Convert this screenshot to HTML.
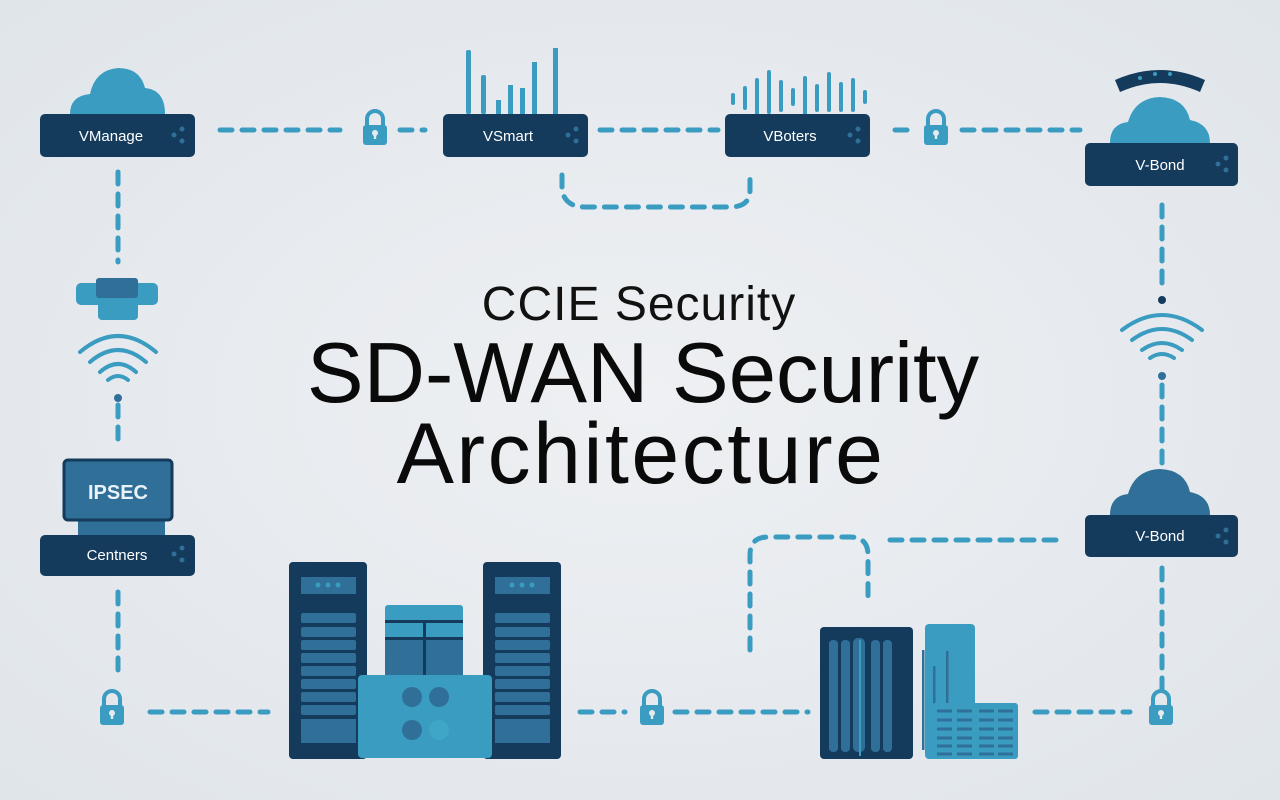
<!DOCTYPE html>
<html><head><meta charset="utf-8"><style>
html,body{margin:0;padding:0;background:#e6eaee;}
svg{display:block}
text{font-family:"Liberation Sans",sans-serif}
</style></head><body>
<svg width="1280" height="800" viewBox="0 0 1280 800">
<defs>
<radialGradient id="bg" cx="50%" cy="50%" r="70%"><stop offset="0" stop-color="#eef0f3"/><stop offset="1" stop-color="#e0e5ea"/></radialGradient>
<g id="lock"><path d="M-8 -2 v-7 a8 8 0 0 1 16 0 v7" fill="none" stroke="#3a9cc0" stroke-width="4"/><rect x="-12" y="-3" width="24" height="20" rx="3" fill="#3a9cc0"/><circle cx="0" cy="5" r="3" fill="#e6eaee"/><rect x="-1.2" y="5" width="2.4" height="6" fill="#e6eaee"/></g>
<g id="dots"><circle cx="0" cy="0" r="2.5" fill="#2f6f98"/><circle cx="8" cy="-6" r="2.5" fill="#2f6f98"/><circle cx="8" cy="6" r="2.5" fill="#2f6f98"/></g>
</defs>
<rect width="1280" height="800" fill="url(#bg)"/>
<g fill="none" stroke="#3a9cc0" stroke-width="5" stroke-linecap="round" stroke-dasharray="12 10">
<path d="M220 130 H340"/><path d="M400 130 H425"/>
<path d="M600 130 H718"/><path d="M895 130 H915"/><path d="M962 130 H1080"/>
<path d="M562 175 V190 Q565 207 585 207 H730 Q750 207 750 190 V172"/>
<path d="M118 172 V262"/><path d="M118 405 V448"/><path d="M118 592 V678"/>
<path d="M150 712 H268"/><path d="M580 712 H625"/><path d="M675 712 H808"/>
<path d="M1035 712 H1130"/>
<path d="M1162 205 V292"/><path d="M1162 385 V470"/><path d="M1162 568 V690"/>
<path d="M750 650 V555 Q750 537 768 537 H850 Q868 537 868 555 V605"/>
<path d="M890 540 H1062"/>
</g>
<use href="#lock" x="375" y="128"/><use href="#lock" x="936" y="128"/>
<use href="#lock" x="112" y="708"/><use href="#lock" x="652" y="708"/><use href="#lock" x="1161" y="708"/>
<path d="M70 114 Q70 96 90 94 Q95 70 118 68 Q140 68 145 88 Q165 90 165 114 Z" fill="#3a9cc0"/>
<rect x="40" y="114" width="155" height="43" rx="5" fill="#143a5c"/>
<text x="111" y="141" fill="#fff" font-size="15" text-anchor="middle">VManage</text><use href="#dots" x="174" y="135"/>
<g fill="#3a9cc0"><rect x="466" y="50" width="5" height="64" rx="2"/><rect x="481" y="75" width="5" height="39" rx="2"/><rect x="496" y="100" width="5" height="14"/><rect x="508" y="85" width="5" height="29"/><rect x="520" y="88" width="5" height="26"/><rect x="532" y="62" width="5" height="52"/><rect x="553" y="48" width="5" height="66"/></g>
<rect x="443" y="114" width="145" height="43" rx="5" fill="#143a5c"/>
<text x="508" y="141" fill="#fff" font-size="15" text-anchor="middle">VSmart</text><use href="#dots" x="568" y="135"/>
<g stroke="#3a9cc0" stroke-width="4" stroke-linecap="round">
<path d="M733 95v8M745 88v20M757 80v34M769 72v40M781 82v28M793 90v14M805 78v38M817 86v24M829 74v36M841 84v26M853 80v30M865 92v10"/></g>
<rect x="725" y="114" width="145" height="43" rx="5" fill="#143a5c"/>
<text x="790" y="141" fill="#fff" font-size="15" text-anchor="middle">VBoters</text><use href="#dots" x="850" y="135"/>
<path d="M1115 80 Q1160 60 1205 80 L1200 92 Q1160 74 1120 92 Z" fill="#143a5c"/>
<g fill="#3a9cc0"><circle cx="1140" cy="78" r="2"/><circle cx="1155" cy="74" r="2"/><circle cx="1170" cy="74" r="2"/></g>
<path d="M1110 143 Q1110 124 1128 122 Q1135 98 1160 97 Q1185 98 1190 120 Q1210 124 1210 143 Z" fill="#3a9cc0"/>
<rect x="1085" y="143" width="153" height="43" rx="5" fill="#143a5c"/>
<text x="1160" y="170" fill="#fff" font-size="15" text-anchor="middle">V-Bond</text><use href="#dots" x="1218" y="164"/>
<rect x="76" y="283" width="82" height="22" rx="5" fill="#3a9cc0"/><rect x="96" y="278" width="42" height="20" rx="3" fill="#2f6f98"/><rect x="98" y="300" width="40" height="20" rx="4" fill="#3a9cc0"/>
<g fill="none" stroke="#3a9cc0" stroke-width="4" stroke-linecap="round">
<path d="M80 352 Q118 320 156 352"/><path d="M90 362 Q118 338 146 362"/><path d="M100 372 Q118 356 136 372"/><path d="M108 380 Q118 372 128 380"/></g>
<circle cx="118" cy="398" r="4" fill="#2f6f98"/>
<rect x="78" y="518" width="87" height="20" fill="#2f6f98"/>
<rect x="64" y="460" width="108" height="60" rx="4" fill="#2f6f98" stroke="#143a5c" stroke-width="3"/>
<text x="118" y="499" fill="#eaf3f8" font-size="20" font-weight="bold" text-anchor="middle">IPSEC</text>
<rect x="40" y="535" width="155" height="41" rx="5" fill="#143a5c"/>
<text x="117" y="560" fill="#fff" font-size="15" text-anchor="middle">Centners</text><use href="#dots" x="174" y="554"/>
<circle cx="1162" cy="300" r="4" fill="#143a5c"/>
<g fill="none" stroke="#3a9cc0" stroke-width="4" stroke-linecap="round">
<path d="M1122 330 Q1162 300 1202 330"/><path d="M1132 340 Q1162 318 1192 340"/><path d="M1142 350 Q1162 336 1182 350"/><path d="M1150 358 Q1162 350 1174 358"/></g>
<circle cx="1162" cy="376" r="4" fill="#2f6f98"/>
<path d="M1110 515 Q1110 496 1128 494 Q1135 470 1160 469 Q1185 470 1190 492 Q1210 496 1210 515 Z" fill="#2f6f98"/>
<rect x="1085" y="515" width="153" height="42" rx="5" fill="#143a5c"/>
<text x="1160" y="541" fill="#fff" font-size="15" text-anchor="middle">V-Bond</text><use href="#dots" x="1218" y="536"/>
<g>
<rect x="289" y="562" width="78" height="197" rx="4" fill="#143a5c"/>
<rect x="483" y="562" width="78" height="197" rx="4" fill="#143a5c"/>
<rect x="301" y="577" width="55" height="17" fill="#2f6f98"/><rect x="495" y="577" width="55" height="17" fill="#2f6f98"/>
<g fill="#3a9cc0"><circle cx="318" cy="585" r="2.5"/><circle cx="328" cy="585" r="2.5"/><circle cx="338" cy="585" r="2.5"/><circle cx="512" cy="585" r="2.5"/><circle cx="522" cy="585" r="2.5"/><circle cx="532" cy="585" r="2.5"/></g>
<g fill="#2f6f98">
<rect x="301" y="613" width="55" height="10" rx="2"/><rect x="301" y="627" width="55" height="10" rx="2"/><rect x="301" y="640" width="55" height="10" rx="2"/><rect x="301" y="653" width="55" height="10" rx="2"/><rect x="301" y="666" width="55" height="10" rx="2"/><rect x="301" y="679" width="55" height="10" rx="2"/><rect x="301" y="692" width="55" height="10" rx="2"/><rect x="301" y="705" width="55" height="10" rx="2"/><rect x="301" y="719" width="55" height="24"/>
<rect x="495" y="613" width="55" height="10" rx="2"/><rect x="495" y="627" width="55" height="10" rx="2"/><rect x="495" y="640" width="55" height="10" rx="2"/><rect x="495" y="653" width="55" height="10" rx="2"/><rect x="495" y="666" width="55" height="10" rx="2"/><rect x="495" y="679" width="55" height="10" rx="2"/><rect x="495" y="692" width="55" height="10" rx="2"/><rect x="495" y="705" width="55" height="10" rx="2"/><rect x="495" y="719" width="55" height="24"/></g>
<rect x="385" y="605" width="78" height="75" rx="3" fill="#3a9cc0"/>
<rect x="385" y="620" width="78" height="3" fill="#143a5c"/><rect x="385" y="637" width="78" height="3" fill="#143a5c"/><rect x="385" y="640" width="78" height="40" fill="#2f6f98"/><rect x="423" y="620" width="3" height="60" fill="#143a5c"/>
<rect x="358" y="675" width="134" height="83" rx="4" fill="#3a9cc0"/>
<g fill="#2f6f98"><circle cx="412" cy="697" r="10"/><circle cx="439" cy="697" r="10"/><circle cx="412" cy="730" r="10"/><circle cx="439" cy="730" r="10" fill="#3fa6c7"/></g>
</g>
<rect x="820" y="627" width="93" height="132" rx="4" fill="#143a5c"/>
<g fill="#2f6f98"><rect x="829" y="640" width="9" height="112" rx="4"/><rect x="841" y="640" width="9" height="112" rx="4"/><rect x="853" y="638" width="12" height="114" rx="5"/><rect x="871" y="640" width="9" height="112" rx="4"/><rect x="883" y="640" width="9" height="112" rx="4"/></g>
<rect x="859" y="640" width="2" height="116" fill="#3a9cc0"/>
<rect x="925" y="624" width="50" height="135" rx="4" fill="#3a9cc0"/>
<g fill="#2f6f98"><rect x="922" y="650" width="2.5" height="100"/><rect x="933" y="666" width="2.5" height="80"/><rect x="946" y="651" width="2.5" height="70"/></g>
<rect x="932" y="703" width="86" height="56" rx="3" fill="#3a9cc0"/>
<g stroke="#2f6f98" stroke-width="3"><path d="M937 711h15M957 711h15M979 711h15M998 711h15M937 720h15M957 720h15M979 720h15M998 720h15M937 729h15M957 729h15M979 729h15M998 729h15M937 738h15M957 738h15M979 738h15M998 738h15M937 746h15M957 746h15M979 746h15M998 746h15M937 754h15M957 754h15M979 754h15M998 754h15"/></g>
<text x="639" y="320" font-size="48" text-anchor="middle" fill="#111" letter-spacing="1">CCIE Security</text>
<text x="643" y="402" font-size="85" text-anchor="middle" fill="#0a0a0a" letter-spacing="0">SD-WAN Security</text>
<text x="641" y="483" font-size="86" text-anchor="middle" fill="#0a0a0a" letter-spacing="2.5">Architecture</text>
</svg>
</body></html>
